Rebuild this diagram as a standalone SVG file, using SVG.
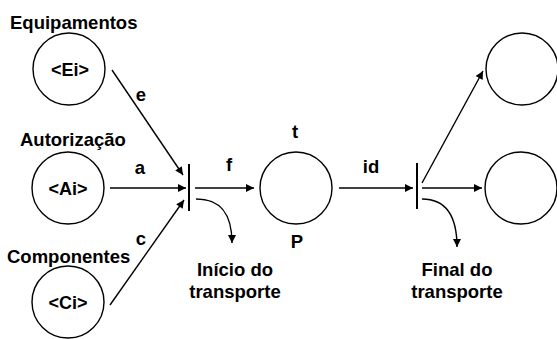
<svg xmlns="http://www.w3.org/2000/svg" width="557" height="339" viewBox="0 0 557 339">
<defs>
<marker id="ah" viewBox="0 0 10 10" refX="10" refY="5" markerWidth="10" markerHeight="8" markerUnits="userSpaceOnUse" orient="auto">
<path d="M0,0 L10,5 L0,10 z" fill="#000"/>
</marker>
</defs>
<style>
.pl{fill:#fff;stroke:#000;stroke-width:1.4}
.tr{stroke:#000;stroke-width:2}
.ed{fill:none;stroke:#000;stroke-width:1.4;marker-end:url(#ah)}
text{font-family:"Liberation Sans",Arial,sans-serif;font-weight:bold;fill:#000}
.lb{font-size:18.5px}
.tk{font-size:18px;text-anchor:middle}
.sm{font-size:18.5px;text-anchor:middle}
</style>
<rect width="557" height="339" fill="#fff"/>
<g id="edges">
<path class="ed" d="M112,70 L183,175"/>
<path class="ed" d="M110,188 L186,188"/>
<path class="ed" d="M110,305 L184,200"/>
<path class="ed" d="M195,188 L254,188"/>
<path class="ed" d="M196,199 C222,199 232,215 232,243"/>
<path class="ed" d="M339,188 L413,188"/>
<path class="ed" d="M422,188 L482,188"/>
<path class="ed" d="M422,183 L483,71"/>
<path class="ed" d="M422,199 C448,199 457,218 457,247"/>
</g>
<g id="ei">
<text class="lb" x="10" y="29">Equipamentos</text>
<circle class="pl" cx="69" cy="69" r="36"/>
<text class="tk" x="70" y="76">&lt;Ei&gt;</text>
</g>
<g id="ai">
<text class="lb" x="20" y="146">Autorização</text>
<circle class="pl" cx="68" cy="188" r="36"/>
<text class="tk" x="68" y="195">&lt;Ai&gt;</text>
</g>
<g id="ci">
<text class="lb" x="7" y="263">Componentes</text>
<circle class="pl" cx="68" cy="302" r="36"/>
<text class="tk" x="68" y="309">&lt;Ci&gt;</text>
</g>
<g id="t1">
<line class="tr" x1="189" y1="164" x2="189" y2="211"/>
<text class="sm" x="235" y="276">Início do</text>
<text class="sm" x="235" y="298">transporte</text>
</g>
<g id="p">
<circle class="pl" cx="296" cy="188" r="36"/>
<text class="sm" x="295" y="138">t</text>
<text class="sm" x="297" y="248">P</text>
</g>
<g id="t2">
<line class="tr" x1="417" y1="163" x2="417" y2="209"/>
<text class="sm" x="457" y="276">Final do</text>
<text class="sm" x="457" y="298">transporte</text>
</g>
<g id="out1"><circle class="pl" cx="522" cy="69" r="36"/></g>
<g id="out2"><circle class="pl" cx="521" cy="188" r="36"/></g>
<g id="labels">
<text class="sm" x="141" y="101">e</text>
<text class="sm" x="140" y="174">a</text>
<text class="sm" x="229" y="171">f</text>
<text class="sm" x="141" y="245">c</text>
<text class="sm" x="371" y="173">id</text>
</g>
</svg>
